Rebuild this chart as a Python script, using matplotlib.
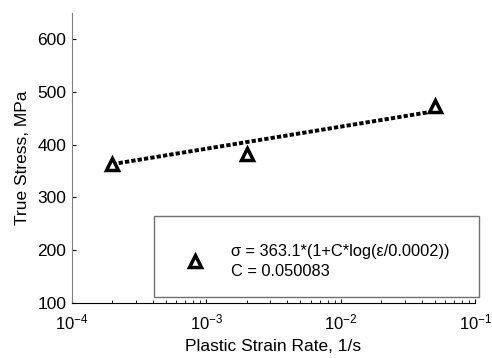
import numpy as np
import matplotlib
matplotlib.use("Agg")
import matplotlib.pyplot as plt

plt.rcParams['font.family'] = ['Liberation Sans', 'DejaVu Sans']
plt.rcParams['mathtext.fontset'] = 'custom'
plt.rcParams['mathtext.rm'] = 'Liberation Sans'
plt.rcParams['mathtext.it'] = 'Liberation Sans'

# dados medidos
taxa = [2e-4, 2e-3, 5e-2]          # taxa de deformacao plastica, 1/s
tensao = [364, 383, 474]           # tensao verdadeira, MPa

# ajuste: sigma = 363.1*(1+C*log(eps/0.0002))
s0 = 363.1
C = 0.050083
eps0 = 0.0002
taxa_fit = [2e-4, 5e-2]
tensao_fit = [s0 * (1 + C * np.log(e / eps0)) for e in taxa_fit]

fig = plt.figure(figsize=(4.92, 3.58), dpi=100)
ax = fig.add_axes([0.146, 0.154, 0.82, 0.81])

ax.plot(taxa_fit, tensao_fit, color='black', lw=2.8,
        linestyle=(0, (1.1, 0.55)), dash_capstyle='butt', zorder=2)
ax.plot(taxa, tensao, linestyle='none', marker='^', markersize=9,
        markerfacecolor='white', markeredgecolor='black', markeredgewidth=2.5,
        zorder=3)

ax.set_xscale('log')
ax.set_xlim(1e-4, 1e-1)
ax.set_ylim(100, 650)
ax.set_yticks([100, 200, 300, 400, 500, 600])

ax.spines['top'].set_visible(False)
ax.spines['right'].set_visible(False)
ax.spines['left'].set_color('#808080')
ax.spines['bottom'].set_color('black')
ax.tick_params(direction='in', labelsize=12.5, length=3, width=0.8)
ax.tick_params(axis='x', which='minor', direction='in', length=2)
ax.tick_params(axis='x', pad=7, labelsize=12)
ax.tick_params(axis='y', pad=4)

ax.set_xlabel('Plastic Strain Rate, 1/s', fontsize=12.5, labelpad=5)
ax.set_ylabel('True Stress, MPa', fontsize=12.5, labelpad=5)

# caixa da legenda
caixa = plt.Rectangle((0.204, 0.02), 0.805, 0.278, transform=ax.transAxes,
                      facecolor='white', edgecolor='#707070', lw=1.0,
                      clip_on=False, zorder=4)
ax.add_patch(caixa)
ax.plot([0.306], [0.143], transform=ax.transAxes, marker='^', markersize=9,
        markerfacecolor='white', markeredgecolor='black', markeredgewidth=2.5,
        linestyle='none', clip_on=False, zorder=5)
ax.text(0.395, 0.178, 'σ = 363.1*(1+C*log(ε/0.0002))', transform=ax.transAxes,
        fontsize=11.8, va='center', ha='left', zorder=5)
ax.text(0.395, 0.108, 'C = 0.050083', transform=ax.transAxes,
        fontsize=11.8, va='center', ha='left', zorder=5)

fig.savefig('out.png', dpi=100)
